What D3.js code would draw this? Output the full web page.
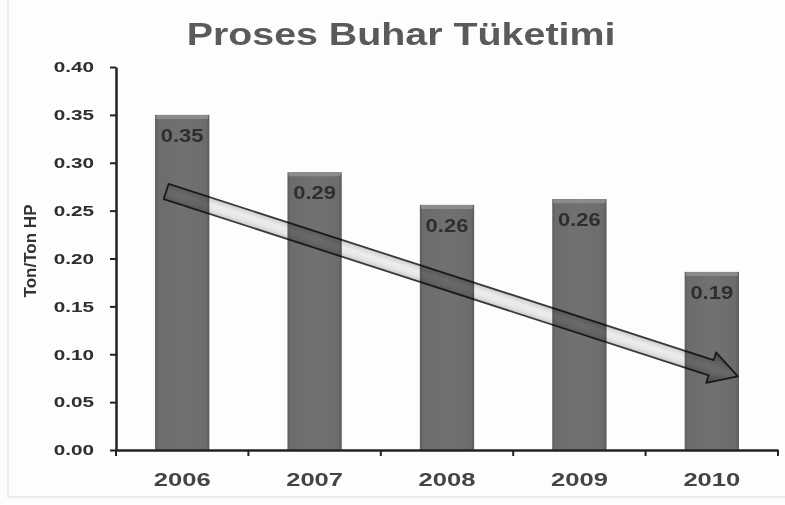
<!DOCTYPE html>
<html>
<head>
<meta charset="utf-8">
<script src="https://cdn.jsdelivr.net/npm/d3@7"></script>
<style>
  html, body { margin: 0; padding: 0; background: #fdfdfd; }
  svg { display: block; font-family: "Liberation Sans", Arial, sans-serif; }
</style>
</head>
<body>
<svg id="chart" width="785" height="505"></svg>
<script>
// Process steam consumption per ton of product, by year
const years = ["2006", "2007", "2008", "2009", "2010"];
const steamUse = [0.35, 0.29, 0.256, 0.262, 0.186];
const yTicks = [0, 0.05, 0.10, 0.15, 0.20, 0.25, 0.30, 0.35, 0.40];
const titleText = "Proses Buhar Tüketimi";
const yLabel = "Ton/Ton HP";
// trend arrow: tail over 2006, head over 2010 (values on the y scale)
const trendFrom = { year: "2006", value: 0.27 };
const trendTo = { year: "2010", value: 0.077 };

const svg = d3.select("#chart");
const W = 785, H = 505;
const plot = { left: 116, right: 778, top: 67, bottom: 450 };

const x = d3.scaleBand().domain(years).range([plot.left, plot.right])
  .paddingInner(0.59).paddingOuter(0.295);
const y = d3.scaleLinear().domain([0, 0.4]).range([plot.bottom, plot.top]);
const fmt = d3.format(".2f");

// widen glyphs horizontally by factor k
function stretch(sel, k) {
  sel.each(function () {
    const w = this.getComputedTextLength();
    d3.select(this).attr("textLength", w * k).attr("lengthAdjust", "spacingAndGlyphs");
  });
}

const defs = svg.append("defs");
const barGrad = defs.append("linearGradient").attr("id", "barGrad")
  .attr("x1", 0).attr("x2", 1).attr("y1", 0).attr("y2", 0);
[[0, "#5c5c5c"], [0.06, "#6c6c6c"], [0.5, "#717171"], [0.94, "#6c6c6c"], [1, "#585858"]]
  .forEach(([o, c]) => barGrad.append("stop").attr("offset", o).attr("stop-color", c));

// faint frame
svg.append("path").attr("d", `M8,0 V497 H${W}`).attr("fill", "none")
  .attr("stroke", "#e6e6e6").attr("stroke-width", 1.5);

// title
svg.append("text").attr("x", 401).attr("y", 45).attr("text-anchor", "middle")
  .attr("font-size", 32).attr("font-weight", "bold").attr("fill", "#5a5a5a")
  .text(titleText).call(stretch, 1.23);

// bars
const bars = svg.append("g");
bars.selectAll("rect.bar").data(years).join("rect").attr("class", "bar")
  .attr("x", d => x(d)).attr("width", x.bandwidth())
  .attr("y", (d, i) => y(steamUse[i])).attr("height", (d, i) => y(0) - y(steamUse[i]))
  .attr("fill", "url(#barGrad)");
// lighter bevel along each bar top
bars.selectAll("rect.cap").data(years).join("rect").attr("class", "cap")
  .attr("x", d => x(d) + 1).attr("width", x.bandwidth() - 2)
  .attr("y", (d, i) => y(steamUse[i])).attr("height", 4)
  .attr("rx", 1.5).attr("fill", "#8b8b8b");

// value labels
svg.append("g").selectAll("text").data(years).join("text")
  .attr("x", d => x(d) + x.bandwidth() / 2)
  .attr("y", (d, i) => y(steamUse[i]) + 27)
  .attr("text-anchor", "middle").attr("font-size", 18).attr("font-weight", "bold")
  .attr("fill", "#2e2e2e").text((d, i) => fmt(steamUse[i])).call(stretch, 1.22);

// trend arrow
const ax0 = x(trendFrom.year) + x.bandwidth() / 2 - 16, ay0 = y(trendFrom.value);
const ax1 = x(trendTo.year) + x.bandwidth() / 2 + 26, ay1 = y(trendTo.value);
const len = Math.hypot(ax1 - ax0, ay1 - ay0);
const ang = Math.atan2(ay1 - ay0, ax1 - ax0) * 180 / Math.PI;
const hw = 8, headLen = 28, headW = 16;
const arrowGrad = defs.append("linearGradient").attr("id", "arrowGrad")
  .attr("x1", 0).attr("x2", 0).attr("y1", 0).attr("y2", 1);
[[0, "#a6a6a6"], [0.45, "#efefef"], [0.6, "#e8e8e8"], [1, "#9a9a9a"]]
  .forEach(([o, c]) => arrowGrad.append("stop").attr("offset", o).attr("stop-color", c));
const arrowPts = [
  [0, -hw], [len - headLen, -hw], [len - headLen, -headW], [len, 0],
  [len - headLen, headW], [len - headLen, hw], [0, hw]
];
svg.append("g").attr("transform", `translate(${ax0},${ay0}) rotate(${ang})`)
  .style("mix-blend-mode", "multiply")
  .append("path").attr("d", d3.line()(arrowPts) + "Z")
  .attr("fill", "url(#arrowGrad)").attr("stroke", "#3a3a3a").attr("stroke-width", 1.8)
  .attr("stroke-linejoin", "round");

// y axis
const yAxis = svg.append("g").attr("transform", `translate(${plot.left},0)`)
  .call(d3.axisLeft(y).tickValues(yTicks).tickFormat(fmt).tickSize(6).tickSizeOuter(0));
yAxis.select(".domain").attr("stroke", "#222").attr("stroke-width", 2.5);
yAxis.selectAll(".tick line").attr("stroke", "#222").attr("stroke-width", 2);
yAxis.selectAll(".tick text").attr("x", -22).attr("font-size", 15).attr("font-weight", "bold")
  .attr("fill", "#2e2e2e").attr("font-family", "Liberation Sans, Arial, sans-serif")
  .call(stretch, 1.38);

// x axis with ticks at category boundaries
const xAxis = svg.append("g").attr("transform", `translate(0,${plot.bottom})`)
  .call(d3.axisBottom(x).tickSize(0).tickPadding(23));
xAxis.select(".domain").attr("stroke", "#222").attr("stroke-width", 2.5);
xAxis.selectAll(".tick text").attr("font-size", 18).attr("font-weight", "bold")
  .attr("fill", "#444").attr("font-family", "Liberation Sans, Arial, sans-serif")
  .call(stretch, 1.42);
const step = x.step();
const bounds = d3.range(years.length + 1).map(i => plot.left + i * step);
xAxis.selectAll("line.bound").data(bounds).join("line").attr("class", "bound")
  .attr("x1", d => d).attr("x2", d => d).attr("y1", 0).attr("y2", 6)
  .attr("stroke", "#222").attr("stroke-width", 2);

// y axis title
svg.append("text").attr("transform", `translate(36,251) rotate(-90)`)
  .attr("text-anchor", "middle").attr("font-size", 16).attr("font-weight", "bold")
  .attr("fill", "#333").text(yLabel)
  .attr("textLength", 93).attr("lengthAdjust", "spacingAndGlyphs");
</script>
</body>
</html>
